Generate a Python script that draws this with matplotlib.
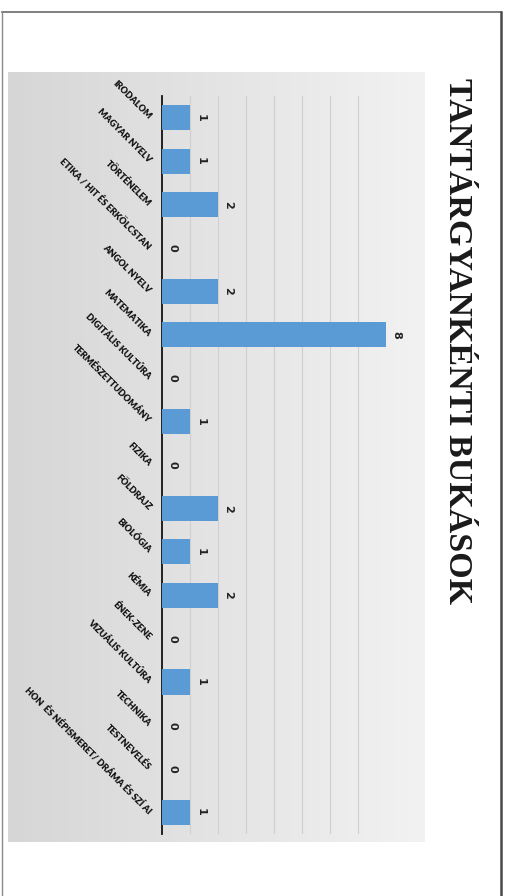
import matplotlib.pyplot as plt
import numpy as np
from matplotlib.colors import LinearSegmentedColormap

# data
subjects = ["IRODALOM", "MAGYAR NYELV", "TÖRTÉNELEM", "ETIKA / HIT ÉS ERKÖLCSTAN",
            "ANGOL NYELV", "MATEMATIKA", "DIGITÁLIS KULTÚRA", "TERMÉSZETTUDOMÁNY",
            "FIZIKA", "FÖLDRAJZ", "BIOLÓGIA", "KÉMIA", "ÉNEK-ZENE", "VIZUÁLIS KULTÚRA",
            "TECHNIKA", "TESTNEVELÉS", "HON  ÉS NÉPISMERET/ DRÁMA ÉS SZÍ AI"]
failures = [1, 1, 2, 0, 2, 8, 0, 1, 0, 2, 1, 2, 0, 1, 0, 0, 1]
title = "TANTÁRGYANKÉNTI BUKÁSOK"

W, H = 505, 896
fig = plt.figure(figsize=(W / 100, H / 100), dpi=100)
fig.patch.set_facecolor("white")


def fx(px):
    return px / W


def fy(py):
    return 1 - py / H


# page frame (scanned slide border)
frame = fig.add_axes([0, 0, 1, 1], zorder=0)
frame.set_xlim(0, W)
frame.set_ylim(H, 0)
frame.axis("off")
frame.plot([2, 501], [12, 12], color="#6a6a6a", lw=1.2)
frame.plot([2, 2], [12, H], color="#8a8a8a", lw=1.0)
frame.plot([501, 501], [12, H], color="#4a4a4a", lw=1.8)

# grey gradient chart background
bg = fig.add_axes([fx(8), fy(842), fx(425 - 8), (842 - 72) / H], zorder=1)
cmap = LinearSegmentedColormap.from_list("bg", ["#d6d6d6", "#e4e4e4", "#f2f2f2"])
grad = np.linspace(0, 1, 256).reshape(1, -1)
bg.imshow(grad, aspect="auto", cmap=cmap, extent=[0, 1, 0, 1])
bg.axis("off")

# bar plot (horizontal, chart is rotated)
ax = fig.add_axes([fx(162), fy(834), fx(386 - 162), (834 - 96) / H], zorder=2)
ax.patch.set_alpha(0)
y = np.arange(len(subjects))
ax.barh(y, failures, height=0.58, color="#5b9bd5", zorder=3)
ax.set_xlim(0, 8)
ax.set_ylim(len(subjects) - 0.5, -0.5)
ax.set_xticks(range(1, 9))
ax.xaxis.grid(True, color="#cfcfcf", lw=0.8)
ax.set_axisbelow(True)
ax.tick_params(axis="x", length=0, labelbottom=False)
for s in ["top", "right", "bottom"]:
    ax.spines[s].set_visible(False)
ax.spines["left"].set_color("#111111")
ax.spines["left"].set_linewidth(1.3)

ax.set_yticks(y)
ax.set_yticklabels(subjects, rotation=-45, ha="right", va="center",
                   rotation_mode="anchor", fontsize=6.6, fontweight="heavy",
                   family=["Lato", "DejaVu Sans"], color="#111111")
ax.tick_params(axis="y", length=0, pad=9)

for yi, v in zip(y, failures):
    ax.annotate(str(v), (v, yi), xytext=(7.5, 0), textcoords="offset points",
                rotation=-90, ha="center", va="center", fontsize=8,
                fontweight="bold", color="#222222", annotation_clip=False)

# title, rotated
fig.text(fx(457), fy(341), title, rotation=-90, ha="center", va="center",
         fontsize=24.5, fontweight="bold", family=["Liberation Serif", "DejaVu Serif"],
         color="#1a1a1a")

fig.savefig("out.png", dpi=100, facecolor="white")
